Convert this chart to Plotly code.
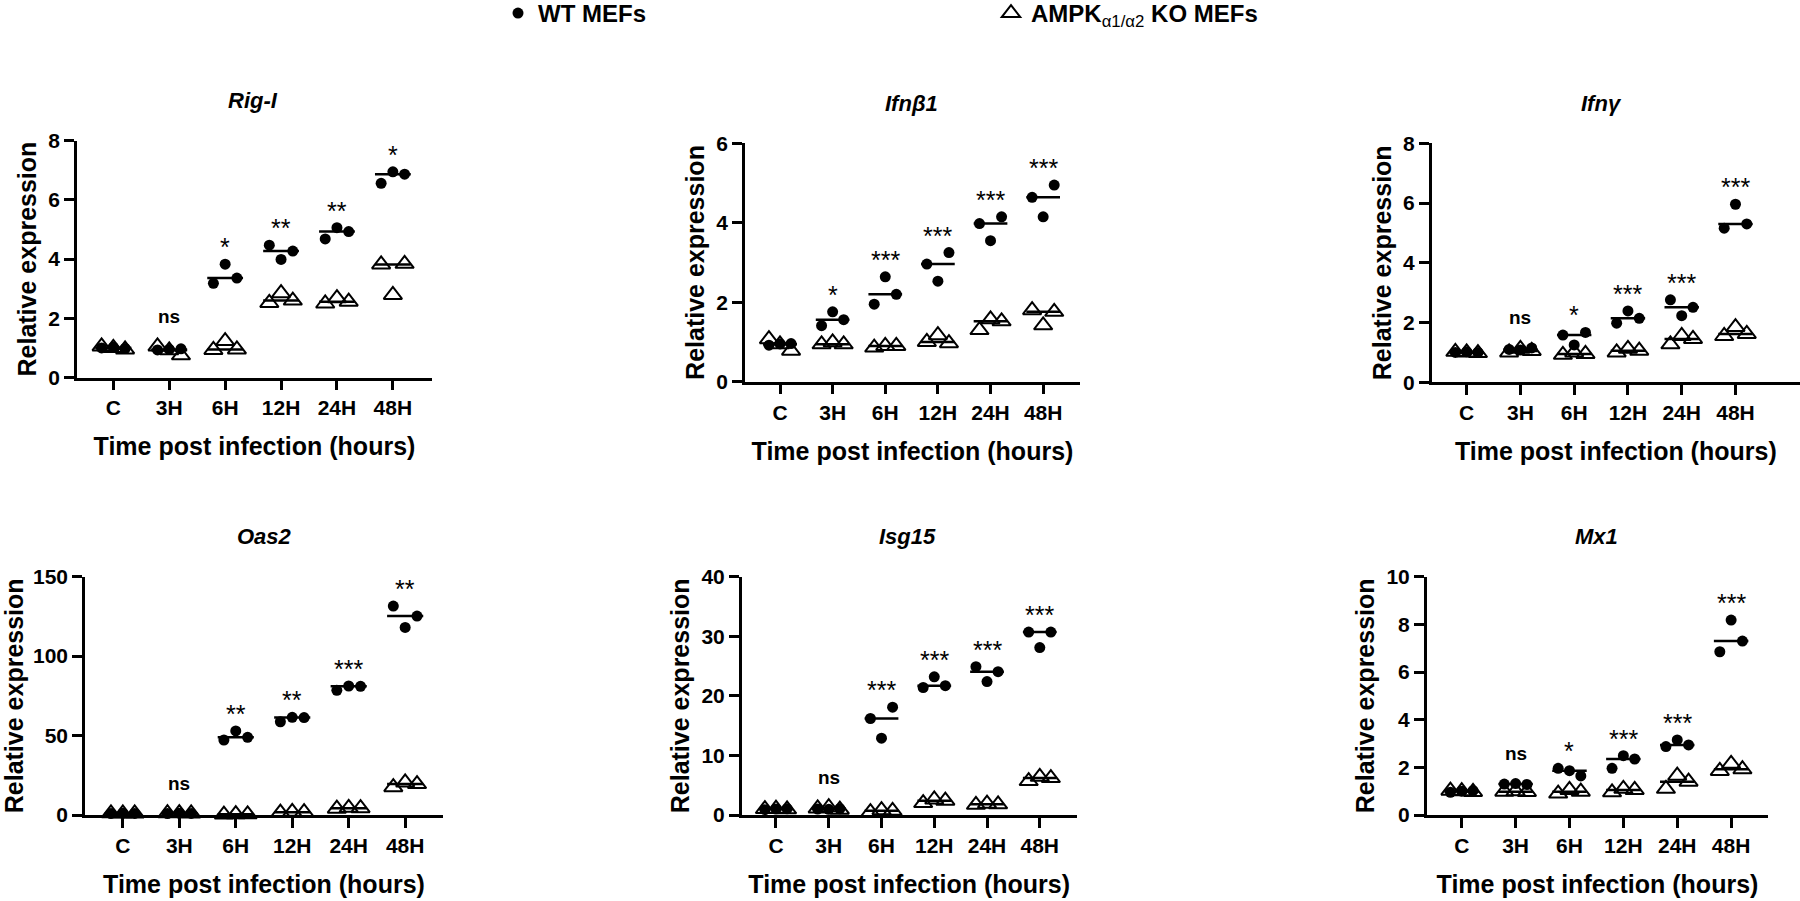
import numpy as np
import plotly.graph_objects as go

# ---------------- data ----------------
CATEGORIES = ["C", "3H", "6H", "12H", "24H", "48H"]
X_TITLE = "Time post infection (hours)"
Y_TITLE = "Relative expression"
WT_NAME = "<b>WT MEFs</b>"
KO_NAME = "<b>AMPK</b><sub>α1/α2</sub><b> KO MEFs</b>"

RIG_I_WT = [[1.00, 1.02, 0.98], [0.93, 0.95, 0.97], [3.18, 3.83, 3.36],
            [4.47, 3.99, 4.27], [4.68, 5.06, 4.93], [6.56, 6.95, 6.87]]
RIG_I_KO = [[1.05, 1.00, 0.95], [1.05, 0.92, 0.75], [0.93, 1.23, 0.95],
            [2.52, 2.85, 2.60], [2.50, 2.68, 2.56], [3.82, 2.79, 3.84]]
RIG_I_SIG = ["", "ns", "*", "**", "**", "*"]

IFNB1_WT = [[0.92, 0.95, 0.96], [1.41, 1.76, 1.56], [1.95, 2.64, 2.20],
            [2.96, 2.53, 3.25], [3.98, 3.55, 4.15], [4.64, 4.15, 4.95]]
IFNB1_KO = [[1.07, 0.94, 0.78], [0.94, 0.99, 0.94], [0.86, 0.90, 0.90],
            [1.00, 1.17, 0.97], [1.30, 1.57, 1.52], [1.80, 1.42, 1.76]]
IFNB1_SIG = ["", "*", "***", "***", "***", "***"]

IFNG_WT = [[1.00, 1.02, 1.00], [1.10, 1.08, 1.15], [1.58, 1.25, 1.67],
           [1.98, 2.39, 2.14], [2.76, 2.23, 2.51], [5.16, 5.96, 5.30]]
IFNG_KO = [[1.02, 1.00, 0.98], [1.00, 1.12, 1.05], [0.92, 1.00, 0.95],
           [1.00, 1.12, 1.06], [1.27, 1.55, 1.45], [1.55, 1.85, 1.62]]
IFNG_SIG = ["", "ns", "*", "***", "***", "***"]

OAS2_WT = [[0.9, 1.05, 1.0], [0.95, 1.1, 1.0], [47.2, 52.9, 48.9],
           [58.7, 61.5, 61.3], [78.5, 81.2, 81.0], [131.5, 118.1, 125.2]]
OAS2_KO = [[1.05, 0.95, 1.0], [1.1, 1.2, 1.0], [0.3, 0.5, 0.4],
           [1.5, 2.0, 1.8], [4.0, 4.5, 4.3], [17.5, 20.5, 19.5]]
OAS2_SIG = ["", "ns", "**", "**", "***", "**"]

ISG15_WT = [[0.9, 1.0, 1.05], [1.0, 0.95, 1.05], [16.2, 12.9, 18.1],
            [21.4, 23.2, 21.7], [24.9, 22.4, 24.05], [30.7, 28.1, 30.7]]
ISG15_KO = [[1.0, 1.05, 0.95], [1.1, 1.3, 0.9], [0.5, 0.8, 0.7],
            [2.0, 2.6, 2.4], [1.7, 1.9, 1.8], [5.7, 6.4, 6.2]]
ISG15_SIG = ["", "ns", "***", "***", "***", "***"]

MX1_WT = [[0.95, 1.00, 1.02], [1.30, 1.32, 1.28], [1.96, 1.86, 1.64],
          [1.96, 2.49, 2.35], [2.87, 3.15, 2.94], [6.85, 8.18, 7.30]]
MX1_KO = [[1.02, 1.00, 0.97], [0.98, 1.00, 0.97], [0.90, 1.05, 0.98],
          [0.95, 1.10, 1.05], [1.10, 1.65, 1.40], [1.85, 2.15, 1.92]]
MX1_SIG = ["", "ns", "*", "***", "***", "***"]

PANELS = [
    ("Rig-I", RIG_I_WT, RIG_I_KO, RIG_I_SIG, [0, 8], 2),
    ("Ifnβ1", IFNB1_WT, IFNB1_KO, IFNB1_SIG, [0, 6], 2),
    ("Ifnγ", IFNG_WT, IFNG_KO, IFNG_SIG, [0, 8], 2),
    ("Oas2", OAS2_WT, OAS2_KO, OAS2_SIG, [0, 150], 50),
    ("Isg15", ISG15_WT, ISG15_KO, ISG15_SIG, [0, 40], 10),
    ("Mx1", MX1_WT, MX1_KO, MX1_SIG, [0, 10], 2),
]

# ---------------- layout / style ----------------
W, H = 1800, 901
FONT = "Liberation Sans, Arial, sans-serif"
# pixel geometry of each subplot: x_left, x_right, y_top, y_bottom, x range
GEOM = [
    (77, 432, 140.7, 377.5, -0.65, 5.70),
    (745, 1080, 143.3, 381.7, -0.665, 5.70),
    (1431.7, 1800, 143.3, 382.3, -0.65, 6.2),
    (85, 443, 576.7, 815, -0.67, 5.67),
    (741.7, 1076.7, 576.7, 815, -0.65, 5.70),
    (1426.7, 1768.3, 576.7, 815, -0.65, 5.69),
]
JITTER = [-0.21, 0.0, 0.21]
HALF = 0.32

fig = go.Figure()
annotations = []

for k, (panel, geom) in enumerate(zip(PANELS, GEOM)):
    name, wt, ko, sig, yr, dtick = panel
    x0, x1, yt, yb, xmin, xmax = geom
    ax = "" if k == 0 else str(k + 1)
    xr, yrf = "x" + ax, "y" + ax

    wx, wy, kx, ky, lx, ly = [], [], [], [], [], []
    for i, (wv, kv) in enumerate(zip(wt, ko)):
        for j, v in enumerate(wv):
            wx.append(i + JITTER[j]); wy.append(v)
        for j, v in enumerate(kv):
            kx.append(i + JITTER[j]); ky.append(v)
        for grp in (wv, kv):
            m = float(np.median(grp))
            lx += [i - HALF, i + HALF, None]
            ly += [m, m, None]

    fig.add_trace(go.Scatter(x=lx, y=ly, mode="lines", xaxis=xr, yaxis=yrf,
                             line=dict(color="black", width=2.5),
                             showlegend=False, hoverinfo="skip", cliponaxis=False))
    fig.add_trace(go.Scatter(x=wx, y=wy, mode="markers", xaxis=xr, yaxis=yrf,
                             name=WT_NAME, legendgroup="wt", showlegend=(k == 0),
                             marker=dict(symbol="circle", size=11, color="black"),
                             cliponaxis=False))
    fig.add_trace(go.Scatter(x=kx, y=ky, mode="markers", xaxis=xr, yaxis=yrf,
                             name=KO_NAME, legendgroup="ko", showlegend=(k == 0),
                             marker=dict(symbol="triangle-up-open", size=16, color="black",
                                         line=dict(width=2, color="black")),
                             cliponaxis=False))

    fig.update_layout(**{
        "xaxis" + ax: dict(
            domain=[x0 / W, x1 / W], range=[xmin, xmax], anchor=yrf,
            tickmode="array", tickvals=list(range(len(CATEGORIES))), ticktext=CATEGORIES,
            showline=True, linecolor="black", linewidth=2.5,
            ticks="outside", ticklen=10, tickwidth=2.5, tickcolor="black",
            tickfont=dict(family=FONT, size=21, color="black", weight="bold"),
            showgrid=False, zeroline=False, fixedrange=True,
            title=dict(text=X_TITLE, standoff=20,
                       font=dict(family=FONT, size=25, color="black", weight="bold")),
        ),
        "yaxis" + ax: dict(
            domain=[1 - yb / H, 1 - yt / H], range=yr, anchor=xr, dtick=dtick,
            showline=True, linecolor="black", linewidth=2.5,
            ticks="outside", ticklen=10, tickwidth=2.5, tickcolor="black",
            tickfont=dict(family=FONT, size=21, color="black", weight="bold"),
            showgrid=False, zeroline=False, fixedrange=True,
            title=dict(text=Y_TITLE, standoff=5,
                       font=dict(family=FONT, size=25, color="black", weight="bold")),
        ),
    })

    # panel title
    annotations.append(dict(
        text="<b><i>%s</i></b>" % name, xref=xr, yref=yrf + " domain",
        x=(len(CATEGORIES) - 1) / 2, y=1, yshift=40, yanchor="middle",
        showarrow=False, font=dict(family=FONT, size=22, color="black")))

    # significance labels
    for i, s in enumerate(sig):
        if not s:
            continue
        top = max(max(wt[i]), max(ko[i]))
        if s == "ns":
            annotations.append(dict(text="<b>ns</b>", xref=xr, yref=yrf, x=i, y=top,
                                    yshift=30, yanchor="middle", showarrow=False,
                                    font=dict(family=FONT, size=19, color="black")))
        else:
            annotations.append(dict(text=s, xref=xr, yref=yrf, x=i, y=top,
                                    yshift=17, yanchor="middle", showarrow=False,
                                    font=dict(family=FONT, size=25, color="black")))

fig.update_layout(
    width=W, height=H, margin=dict(l=0, r=0, t=0, b=0, autoexpand=False),
    paper_bgcolor="white", plot_bgcolor="white",
    font=dict(family=FONT, color="black"),
    hovermode=False,
    annotations=annotations,
    showlegend=True,
    legend=dict(orientation="h", x=498 / W, xanchor="left", y=1.010, yanchor="top",
                entrywidth=448, entrywidthmode="pixels", itemsizing="trace",
                font=dict(family=FONT, size=24, color="black"),
                bgcolor="rgba(0,0,0,0)", borderwidth=0),
)

fig.write_html("out.html", config={"displayModeBar": False},
               post_script="document.body.style.margin='0';")
